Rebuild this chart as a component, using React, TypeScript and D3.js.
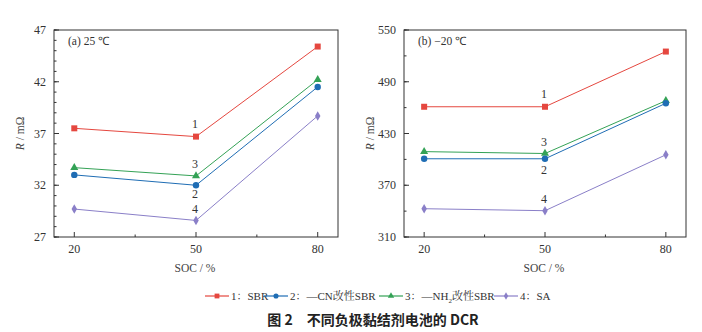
import React from "react";
import * as d3 from "d3";

const socLevels = [20, 50, 80];
const seriesNames = ["1：SBR", "2：—CN改性SBR", "3：—NH2改性SBR", "4：SA"];
const seriesColors = ["#e5473f", "#1f6db4", "#34a256", "#8a7fc8"];
const seriesMarkers = ["square", "circle", "triangle", "diamond"];

const dcr25_SBR = [37.5, 36.7, 45.4];
const dcr25_CN = [33.0, 32.0, 41.5];
const dcr25_NH2 = [33.7, 32.9, 42.2];
const dcr25_SA = [29.7, 28.6, 38.7];

const dcrM20_SBR = [461, 461, 525];
const dcrM20_CN = [400.7, 400.7, 465];
const dcrM20_NH2 = [409, 406.8, 468];
const dcrM20_SA = [342.8, 340.5, 405.3];

const yTicksA = [27, 32, 37, 42, 47];
const yTicksB = [310, 370, 430, 490, 550];
const xTicks = [20, 50, 80];

const FONT = '"Liberation Serif"';
const CJK = '"Liberation Serif", "Noto Serif CJK SC"';

function Marker({ type, x, y, color, s = 1 }: { type: string; x: number; y: number; color: string; s?: number }) {
  if (type === "square") return <rect x={x - 3 * s} y={y - 3 * s} width={6 * s} height={6 * s} fill={color} />;
  if (type === "circle") return <circle cx={x} cy={y} r={3.2 * s} fill={color} />;
  if (type === "triangle") {
    const p = d3.symbol(d3.symbolTriangle, 28 * s * s)();
    return <path d={p!} transform={`translate(${x},${y})`} fill={color} />;
  }
  const p = d3.symbol(d3.symbolDiamond, 26 * s * s)();
  return <path d={p!} transform={`translate(${x},${y})`} fill={color} />;
}

function Panel({
  left, right, top, bottom, yDomain, yTicks, minorStep, series, title, labelPos,
}: any) {
  const x = d3.scaleLinear().domain([15, 85]).range([left, right]);
  const y = d3.scaleLinear().domain(yDomain).range([bottom, top]);
  const minor = d3.range(yDomain[0], yDomain[1] + 0.001, minorStep);
  const xMinor = [35, 65];
  const line = d3.line<number>().x((_, i) => x(socLevels[i])).y((v) => y(v));
  const order = [0, 2, 1, 3];
  const ts = { fontFamily: FONT };
  return (
    <g>
      <rect x={left} y={top} width={right - left} height={bottom - top} fill="none" stroke="#333" strokeWidth={1} />
      {minor.map((v: number) => (
        <line key={"m" + v} x1={left} x2={left + 2.5} y1={y(v)} y2={y(v)} stroke="#333" strokeWidth={1} />
      ))}
      {yTicks.map((v: number) => (
        <g key={"y" + v}>
          <line x1={left} x2={left + 5} y1={y(v)} y2={y(v)} stroke="#333" strokeWidth={1} />
          <text x={left - 8} y={y(v)} dy="0.35em" textAnchor="end" fontSize={12} style={ts} fill="#333">{v}</text>
        </g>
      ))}
      {xTicks.map((v) => (
        <g key={"x" + v}>
          <line x1={x(v)} x2={x(v)} y1={bottom} y2={bottom - 5} stroke="#333" strokeWidth={1} />
          <text x={x(v)} y={bottom + 16} textAnchor="middle" fontSize={12} style={ts} fill="#333">{v}</text>
        </g>
      ))}
      {xMinor.map((v) => (
        <line key={"xm" + v} x1={x(v)} x2={x(v)} y1={bottom} y2={bottom - 2.5} stroke="#333" strokeWidth={1} />
      ))}
      <text x={(left + right) / 2 - 1} y={272} textAnchor="middle" fontSize={11.5} style={ts} fill="#444">SOC / %</text>
      <text transform={`translate(${left - 30},${(top + bottom) / 2}) rotate(-90)`} textAnchor="middle" fontSize={11.5} style={ts} fill="#444">
        <tspan fontStyle="italic">R</tspan> / mΩ
      </text>
      <text x={left + 14} y={top + 15} fontSize={11.5} style={ts} fill="#333">{title}</text>
      {order.map((si) => (
        <g key={"s" + si}>
          <path d={line(series[si])!} fill="none" stroke={seriesColors[si]} strokeWidth={1} />
          {series[si].map((v: number, i: number) => (
            <Marker key={i} type={seriesMarkers[si]} x={x(socLevels[i])} y={y(v)} color={seriesColors[si]} />
          ))}
        </g>
      ))}
      {labelPos.map((lp: any, i: number) => (
        <text key={"l" + i} x={x(50) - 1} y={lp} textAnchor="middle" fontSize={12} style={ts} fill="#333">{String(i + 1)}</text>
      ))}
    </g>
  );
}

export default function App() {
  const legendX = [205, 264, 379, 494];
  return (
    <svg width={702} height={332} style={{ position: "absolute", left: 0, top: 0, background: "#fff" }}>
      <Panel
        left={54} right={338} top={30} bottom={237}
        yDomain={[27, 47]} yTicks={yTicksA} minorStep={1}
        series={[dcr25_SBR, dcr25_CN, dcr25_NH2, dcr25_SA]}
        title="(a) 25 ℃"
        labelPos={[128, 198, 168, 213]}
      />
      <Panel
        left={404} right={686} top={30} bottom={237}
        yDomain={[310, 550]} yTicks={yTicksB} minorStep={30}
        series={[dcrM20_SBR, dcrM20_CN, dcrM20_NH2, dcrM20_SA]}
        title="(b) −20 ℃"
        labelPos={[98, 174, 146, 203]}
      />
      {seriesNames.map((name, i) => {
        const lx = legendX[i];
        const ly = 296;
        return (
          <g key={"lg" + i}>
            <line x1={lx} x2={lx + 24} y1={ly} y2={ly} stroke={seriesColors[i]} strokeWidth={1.2} />
            <Marker type={seriesMarkers[i]} x={lx + 12} y={ly} color={seriesColors[i]} s={0.8} />
            <text x={lx + 26} y={ly} dy="0.35em" fontSize={11} style={{ fontFamily: CJK }} fill="#333">
              {i === 2 ? (
                <>
                  3：—NH<tspan fontSize={7} dy={3}>2</tspan><tspan dy={-3}>改性SBR</tspan>
                </>
              ) : name}
            </text>
          </g>
        );
      })}
      <text x={373} y={325} textAnchor="middle" fontSize={14} fontWeight="bold" style={{ fontFamily: '"Noto Sans CJK SC"' }} fill="#222">
        图 2　不同负极黏结剂电池的 DCR
      </text>
    </svg>
  );
}
